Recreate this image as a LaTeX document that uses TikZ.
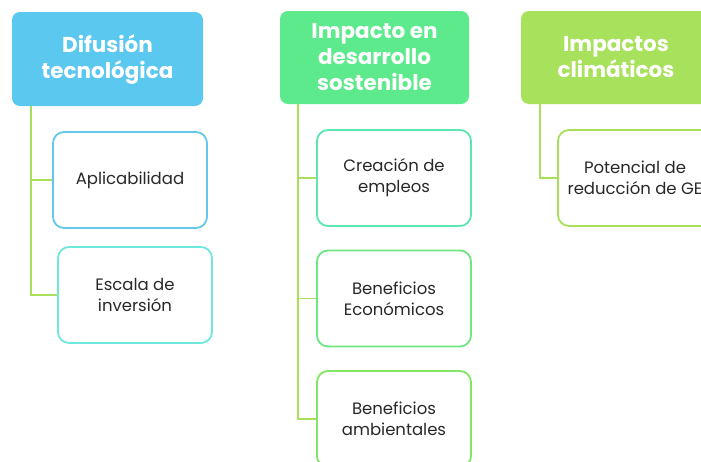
\documentclass[tikz,border=0pt]{standalone}
\usepackage{fontspec}
\setmainfont{Poppins}
\definecolor{headBlue}{RGB}{91,200,240}
\definecolor{headGreen}{RGB}{92,234,140}
\definecolor{headLime}{RGB}{168,226,92}
\definecolor{lineBlue}{RGB}{100,200,234}
\definecolor{lineCyan}{RGB}{110,232,220}
\definecolor{lineTeal}{RGB}{94,230,176}
\definecolor{lineGreen}{RGB}{110,230,130}
\definecolor{lineLeaf}{RGB}{130,230,100}
\definecolor{linkLime}{RGB}{168,224,90}
\definecolor{textGray}{RGB}{40,40,40}

\tikzset{
  header/.style={rounded corners=8pt, minimum height=94pt, inner sep=0pt,
    text=white, align=center, font=\bfseries\fontsize{21.5}{26}\selectfont},
  item/.style={draw, line width=1.8pt, rounded corners=11pt, fill=white,
    minimum width=154pt, minimum height=96pt, inner sep=0pt, text=textGray,
    align=center, font=\fontsize{16.5}{21}\selectfont},
  link/.style={draw=linkLime, line width=1.8pt}
}

\begin{document}
\begin{tikzpicture}[x=1pt,y=-1pt]
  \useasboundingbox (0,0) rectangle (701,461);
  \clip (0,0) rectangle (701,461);
  % Headers
  \node[header, fill=headBlue, minimum width=191pt] (hdA) at (107.5,59) {Difusión\\tecnológica};
  \node[header, fill=headGreen, minimum width=189pt, minimum height=93pt] (hdB) at (374.5,57.5) {Impacto en\\desarrollo\\sostenible};
  \node[header, fill=headLime, minimum width=190pt, minimum height=93pt] (hdC) at (616,57.5) {Impactos\\climáticos};
  % Trunks
  \coordinate (trA) at (31,106);
  \coordinate (trB) at (298,104);
  \coordinate (trC) at (540,104);
  % Difusion
  \node[item, draw=lineBlue] (apl) at (130,180) {Aplicabilidad};
  \node[item, draw=lineCyan] (esc) at (135,295) {Escala de\\inversión};
  \draw[link] (trA) |- (apl.west);
  \draw[link] (trA) |- (esc.west);
  % Desarrollo
  \node[item, draw=lineTeal] (cre) at (394,178) {Creación de\\empleos};
  \node[item, draw=lineGreen] (eco) at (394,298.5) {Beneficios\\Económicos};
  \node[item, draw=lineLeaf] (amb) at (394,419) {Beneficios\\ambientales};
  \draw[link] (trB) |- (cre.west);
  \draw[link] (trB) |- (eco.west);
  \draw[link] (trB) |- (amb.west);
  % Clima
  \node[item, draw=linkLime] (pot) at (635,178) {Potencial de\\reducción de GE};
  \draw[link] (trC) |- (pot.west);
\end{tikzpicture}
\end{document}
